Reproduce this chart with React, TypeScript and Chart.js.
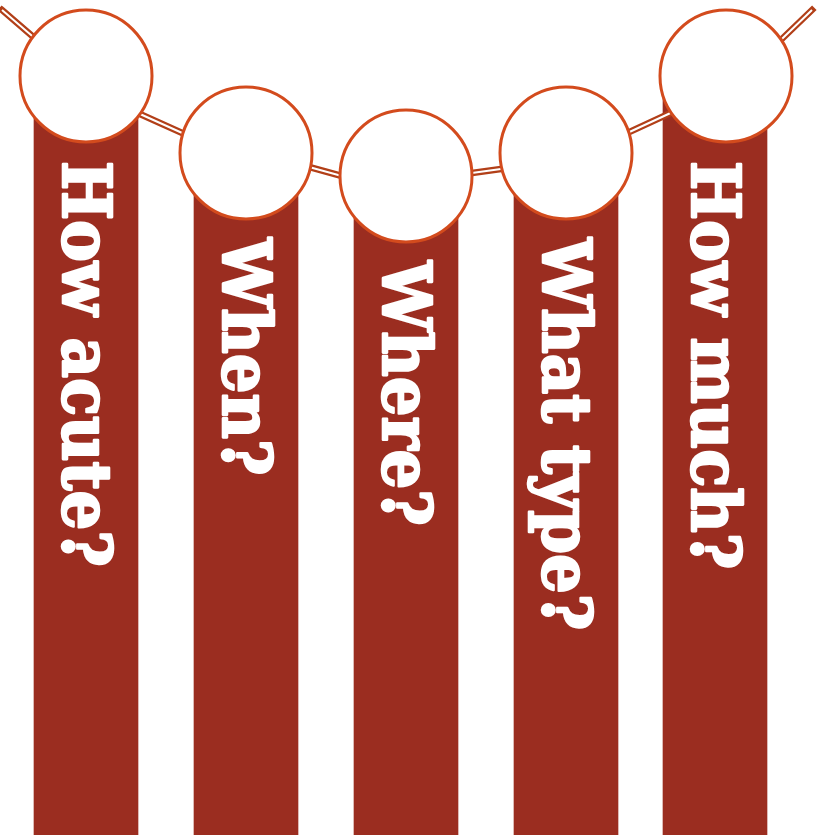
import React, { useEffect, useRef } from "react";
import { Chart, registerables } from "chart.js";

Chart.register(...registerables);

// Questions hanging on the banners
const questions = ["How acute?", "When?", "Where?", "What type?", "How much?"];
// Horizontal position of each banner (canvas units)
const bannerX = [86, 246, 406, 566, 715];
// Horizontal position of each circle
const circleX = [86, 246, 406, 566, 726];
// Vertical position of each circle (top of each banner)
const circleY = [76, 153, 176, 153, 76];
// Where the banners end
const bannerBottom = 835;
// Rope segments: x and y of each end, null separates segments
const ropeX = [2, 60, null, 120, 200, null, 280, 360, null, 450, 530, null, 610, 690, null, 760, 812];
const ropeY = [10, 60, null, 105, 141, null, 159, 181, null, 176, 165, null, 141, 104, null, 60, 10];

const RED = "#9b2d20";
const ORANGE = "#d34b1d";
const ROPE = "#b23f18";

const labelPlugin = {
  id: "bannerLabels",
  afterDatasetsDraw(chart: any) {
    const ctx = chart.ctx;
    const xs = chart.scales.x;
    const ys = chart.scales.y;
    ctx.save();
    ctx.fillStyle = "#ffffff";
    ctx.strokeStyle = "#ffffff";
    ctx.lineWidth = 2.5;
    ctx.lineJoin = "round";
    ctx.font = "bold 68px 'DejaVu Serif'";
    ctx.textAlign = "left";
    ctx.textBaseline = "alphabetic";
    questions.forEach((q, i) => {
      const px = xs.getPixelForValue(bannerX[i]);
      const py = ys.getPixelForValue(circleY[i]);
      ctx.save();
      ctx.translate(px - 23, py + 85);
      ctx.rotate(Math.PI / 2);
      ctx.scale(0.92, 1);
      ctx.fillText(q, 0, 0);
      ctx.strokeText(q, 0, 0);
      ctx.restore();
    });
    ctx.restore();
  },
};

export default function App() {
  const ref = useRef<HTMLCanvasElement>(null);
  useEffect(() => {
    if (!ref.current) return;
    const rope = ropeX.map((x, i) => ({ x: x === null ? NaN : x, y: ropeY[i] }));
    const chart = new Chart(ref.current, {
      type: "bar",
      data: {
        datasets: [
          {
            type: "scatter",
            label: "circles",
            data: circleX.map((x, i) => ({ x, y: circleY[i] })),
            pointRadius: 66,
            pointBackgroundColor: "#ffffff",
            pointBorderColor: ORANGE,
            pointBorderWidth: 3,
            showLine: false,
            clip: false,
            order: 1,
          } as any,
          {
            type: "line",
            label: "rope inner",
            data: rope,
            borderColor: "#ffffff",
            borderWidth: 2,
            borderCapStyle: "butt",
            pointRadius: 0,
            spanGaps: false,
            fill: false,
            clip: false,
            order: 3,
          } as any,
          {
            type: "line",
            label: "rope",
            data: rope,
            borderColor: ROPE,
            borderWidth: 6.5,
            borderCapStyle: "square",
            pointRadius: 0,
            spanGaps: false,
            fill: false,
            clip: false,
            order: 4,
          } as any,
          {
            type: "bar",
            label: "banners",
            data: bannerX.map((x, i) => ({ x, y: [bannerBottom, circleY[i]] })),
            backgroundColor: RED,
            borderWidth: 0,
            barThickness: 104,
            clip: false,
            order: 5,
          } as any,
        ],
      },
      options: {
        animation: false,
        responsive: false,
        maintainAspectRatio: false,
        events: [],
        layout: { padding: 0, autoPadding: false },
        plugins: { legend: { display: false }, tooltip: { enabled: false } },
        scales: {
          x: { type: "linear", min: 0, max: 819, offset: false, display: false },
          y: { type: "linear", min: 0, max: 835, reverse: true, display: false },
        },
      } as any,
      plugins: [labelPlugin],
    });
    return () => chart.destroy();
  }, []);
  return (
    <div style={{ position: "absolute", left: 0, top: 0, width: 819, height: 835, background: "#fff" }}>
      <canvas ref={ref} width={819} height={835} style={{ display: "block" }} />
    </div>
  );
}
